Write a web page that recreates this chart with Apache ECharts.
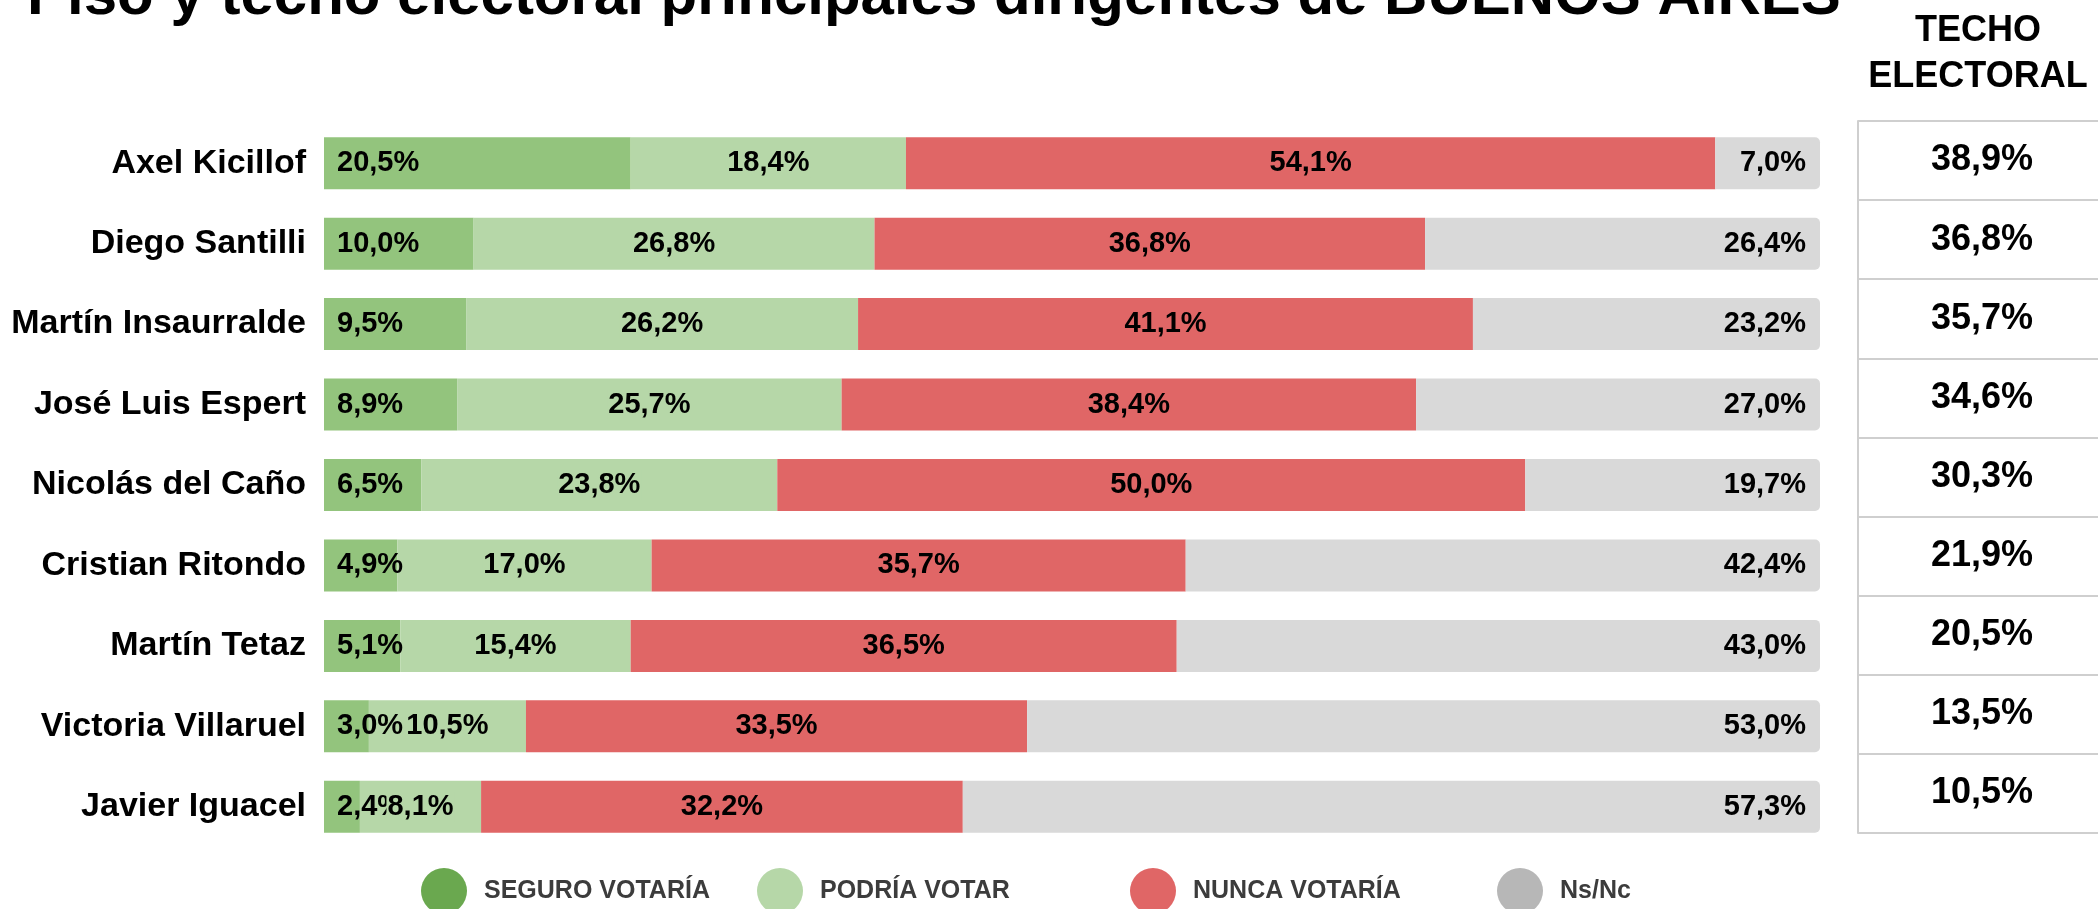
<!DOCTYPE html>
<html>
<head>
<meta charset="utf-8">
<script src="https://cdn.jsdelivr.net/npm/echarts@6/dist/echarts.min.js"></script>
<style>
html,body{margin:0;padding:0;background:#fff;}
#chart{width:2098px;height:909px;}
</style>
</head>
<body>
<div id="chart"></div>
<script>
const titleText = 'Piso y techo electoral principales dirigentes de BUENOS AIRES';
const techoHeader = 'TECHO\nELECTORAL';
const categories = ['Axel Kicillof','Diego Santilli','Martín Insaurralde','José Luis Espert','Nicolás del Caño','Cristian Ritondo','Martín Tetaz','Victoria Villaruel','Javier Iguacel'];
const seriesNames = ['SEGURO VOTARÍA','PODRÍA VOTAR','NUNCA VOTARÍA','Ns/Nc'];
const seguro = [20.5,10.0,9.5,8.9,6.5,4.9,5.1,3.0,2.4];
const podria = [18.4,26.8,26.2,25.7,23.8,17.0,15.4,10.5,8.1];
const nunca  = [54.1,36.8,41.1,38.4,50.0,35.7,36.5,33.5,32.2];
const nsnc   = [7.0,26.4,23.2,27.0,19.7,42.4,43.0,53.0,57.3];
const techo  = [38.9,36.8,35.7,34.6,30.3,21.9,20.5,13.5,10.5];

const barColors = ['#93C47D','#B6D7A8','#E06666','#D9D9D9'];
const legendColors = ['#6AA84F','#B6D7A8','#E06666','#B7B7B7'];
const FONT = '"Liberation Sans", Arial, sans-serif';
const fmt = v => v.toFixed(1).replace('.', ',') + '%';

const chart = echarts.init(document.getElementById('chart'), null, {renderer:'canvas'});

const labelBase = {show:true, color:'#000', fontFamily:FONT, fontWeight:'bold', fontSize:29,
  formatter: p => fmt(p.value)};

const legendLefts = [421, 757, 1130, 1497];

const option = {
  animation:false,
  backgroundColor:'#fff',
  title:{text:titleText, left:27, top:-33, padding:0,
    textStyle:{fontFamily:FONT, fontWeight:'bold', fontSize:60, color:'#000'}},
  legend: seriesNames.map((n,i)=>({
    data:[{name:n, itemStyle:{color:legendColors[i]}}],
    left:legendLefts[i], top:868, padding:0, icon:'circle',
    itemWidth:46, itemHeight:46, selectedMode:false,
    textStyle:{fontFamily:FONT, fontWeight:'bold', fontSize:25, color:'#3c3c3c', padding:[0,0,0,12]}
  })),
  grid:[
    {left:324, right:278, top:123, height:724, containLabel:false},
    {left:1858, right:0, top:121, height:712, containLabel:false}
  ],
  xAxis:[
    {type:'value', gridIndex:0, min:0, max:100, show:false},
    {type:'category', gridIndex:1, position:'top', data:[techoHeader],
      axisLine:{show:false}, axisTick:{show:false}, splitLine:{show:false},
      axisLabel:{show:true, margin:21, color:'#000', fontFamily:FONT, fontWeight:'bold', fontSize:36, lineHeight:46, align:'center'}}
  ],
  yAxis:[
    {type:'category', gridIndex:0, data:categories, inverse:true,
      axisLine:{show:false}, axisTick:{show:false}, splitLine:{show:false},
      axisLabel:{margin:18, color:'#000', fontFamily:FONT, fontWeight:'bold', fontSize:34}},
    {type:'category', gridIndex:1, data:categories, inverse:true,
      axisLine:{show:true, lineStyle:{color:'#cfcfcf', width:2}},
      axisTick:{show:false}, axisLabel:{show:false},
      splitLine:{show:true, lineStyle:{color:'#cfcfcf', width:2}}}
  ],
  series:[
    {name:seriesNames[0], type:'bar', stack:'t', data:seguro, barWidth:52, xAxisIndex:0, yAxisIndex:0,
      itemStyle:{color:barColors[0]},
      label:Object.assign({}, labelBase, {position:'insideLeft', distance:13})},
    {name:seriesNames[1], type:'bar', stack:'t', data:podria, barWidth:52, xAxisIndex:0, yAxisIndex:0,
      itemStyle:{color:barColors[1]},
      label:Object.assign({}, labelBase, {position:'inside', backgroundColor:barColors[1], padding:[0,1]})},
    {name:seriesNames[2], type:'bar', stack:'t', data:nunca, barWidth:52, xAxisIndex:0, yAxisIndex:0,
      itemStyle:{color:barColors[2]},
      label:Object.assign({}, labelBase, {position:'inside'})},
    {name:seriesNames[3], type:'bar', stack:'t', data:nsnc, barWidth:52, xAxisIndex:0, yAxisIndex:0,
      itemStyle:{color:barColors[3], borderRadius:[0,5,5,0]},
      label:Object.assign({}, labelBase, {position:'insideRight', distance:14})},
    {name:'techo', type:'scatter', xAxisIndex:1, yAxisIndex:1, symbolSize:0,
      itemStyle:{opacity:1},
      data: techo.map((v,i)=>({value:[techoHeader, categories[i], v]})),
      label:{show:true, position:'inside', offset:[4,0], color:'#000', opacity:1, fontFamily:FONT, fontWeight:'bold', fontSize:36,
        formatter:p=>fmt(p.value[2])},
      silent:true}
  ]
};
chart.setOption(option);
</script>
</body>
</html>
